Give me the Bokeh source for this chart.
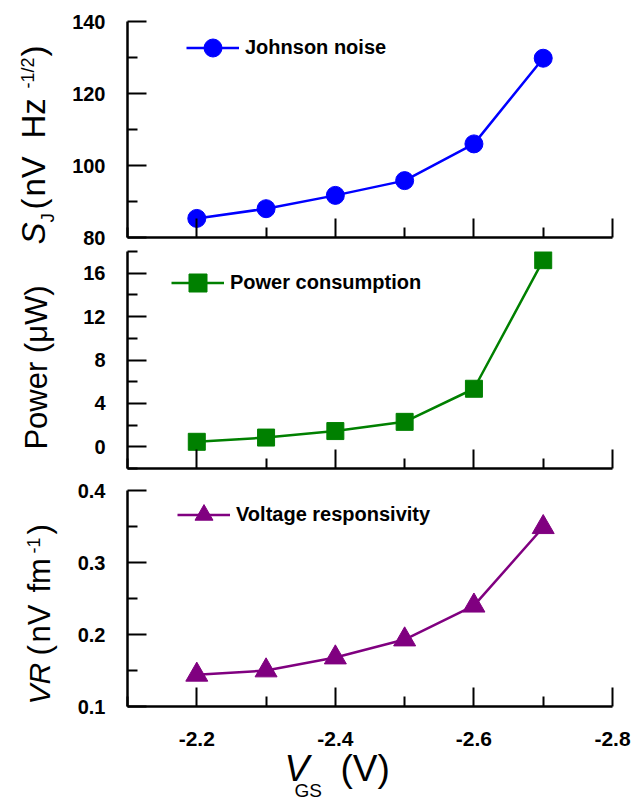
import math
from bokeh.plotting import figure
from bokeh.layouts import column, row
from bokeh.models import Range1d, FixedTicker, Legend, LegendItem, CustomJSTickFormatter
from bokeh.core.properties import value
from bokeh.embed import file_html
from bokeh.resources import INLINE

# ---- data ----
vgs = [-2.2, -2.3, -2.4, -2.5, -2.6, -2.7]
johnson_noise = [85.3, 88.0, 91.7, 95.8, 106.0, 129.8]
power = [0.46, 0.85, 1.45, 2.3, 5.35, 17.2]
responsivity = [0.144, 0.150, 0.168, 0.193, 0.240, 0.349]

x_start, x_end = -2.1, -2.8
x_major = [-2.2, -2.4, -2.6, -2.8]
x_minor = [-2.1, -2.3, -2.5, -2.7]
x_labels = ["-2.2", "-2.4", "-2.6", "-2.8"]
sj_major = [80, 100, 120, 140]
sj_minor = [90, 110, 130]
pw_major = [0, 4, 8, 12, 16]
pw_minor = [-2, 2, 6, 10, 14, 18]
vr_major = [0.1, 0.2, 0.3, 0.4]
vr_minor = [0.15, 0.25, 0.35]

FONT = "Liberation Sans"
W, H = 637, 801
STRIP_W = 62          # left strip holding the y-axis titles
BOTTOM_H = 81         # bottom strip holding x tick labels and x-axis title
FRAME_L, FRAME_R = 127, 612


def make_panel(y_start, y_end, y_major, y_minor, top, bottom, fh):
    p = figure(frame_width=FRAME_R - FRAME_L, frame_height=fh,
               min_border_left=FRAME_L - STRIP_W, min_border_right=W - FRAME_R,
               min_border_top=top, min_border_bottom=bottom,
               x_range=Range1d(x_start, x_end), y_range=Range1d(y_start, y_end),
               output_backend="svg", toolbar_location=None,
               background_fill_color="white", border_fill_color="white")
    p.outline_line_color = None
    p.grid.visible = False
    for ax in (p.xaxis[0], p.yaxis[0]):
        ax.axis_line_width = 2.5
        ax.axis_line_color = "black"
        ax.major_tick_line_width = 2
        ax.minor_tick_line_width = 2
        ax.major_tick_line_color = "black"
        ax.minor_tick_line_color = "black"
        ax.major_tick_in = 19
        ax.major_tick_out = 0
        ax.minor_tick_in = 10
        ax.minor_tick_out = 0
        ax.major_label_text_font = FONT
        ax.major_label_text_font_style = "bold"
        ax.major_label_text_font_size = "20px"
        ax.major_label_text_color = "black"
    p.xaxis.ticker = FixedTicker(ticks=x_major, minor_ticks=x_minor)
    p.yaxis.ticker = FixedTicker(ticks=y_major, minor_ticks=y_minor)
    p.yaxis.major_label_standoff = 22
    # x tick labels are drawn once, in the bottom strip
    p.xaxis.formatter = CustomJSTickFormatter(code="return ''")
    p.xaxis.major_label_text_font_size = "1px"
    p.xaxis.major_label_standoff = 0
    return p


def strip(w, h, xr):
    s = figure(width=w, height=h, x_range=xr, y_range=Range1d(0, h),
               min_border=0, x_axis_location=None, y_axis_location=None,
               output_backend="svg", toolbar_location=None,
               background_fill_color="white", border_fill_color="white")
    s.frame_align = False
    s.outline_line_color = None
    s.grid.visible = False
    return s


def legend(p, items, loc):
    lg = Legend(items=items, location=loc, glyph_width=53, glyph_height=45,
                label_standoff=6, label_text_font=FONT, label_text_font_style="bold",
                label_text_font_size="20px", label_text_color="black",
                padding=0, margin=0, spacing=0, border_line_color=None,
                background_fill_alpha=0)
    p.add_layout(lg)


# ---- panel 1: Johnson noise ----
p1 = make_panel(80, 140, sj_major, sj_minor, 21, 13, 216)
l1 = p1.line(vgs, johnson_noise, line_color="#0000FF", line_width=2.5)
s1 = p1.scatter(vgs, johnson_noise, marker="circle", size=18,
                fill_color="#0000FF", line_color="#0000FF")
legend(p1, [LegendItem(label="Johnson noise", renderers=[l1, s1])], (59, 167))

# ---- panel 2: power ----
p2 = make_panel(-2, 18, pw_major, pw_minor, 1, 9, 217)
l2 = p2.line(vgs, power, line_color="#008000", line_width=2.5)
s2 = p2.scatter(vgs, power, marker="square", size=17,
                fill_color="#008000", line_color="#008000")
legend(p2, [LegendItem(label="Power consumption", renderers=[l2, s2])], (44, 163))

# ---- panel 3: voltage responsivity ----
p3 = make_panel(0.1, 0.4, vr_major, vr_minor, 13, 14, 216)
l3 = p3.line(vgs, responsivity, line_color="#800080", line_width=2.5)
s3 = p3.scatter(vgs, responsivity, marker="triangle", size=22,
                fill_color="#800080", line_color="#800080")
legend(p3, [LegendItem(label="Voltage responsivity", renderers=[l3, s3])], (50, 169))

# ---- left strip: rotated y-axis titles (page px: centre line x, text start y) ----
left = strip(STRIP_W, H, Range1d(0, STRIP_W))
ytitle_parts = [
    ("S", 33, 244, "33px", "italic", "left"),
    ("J", 47, 222, "19px", "normal", "left"),
    ("(", 33, 209, "33px", "normal", "left"),
    ("nV", 33, 196, "33px", "normal", "left"),
    ("Hz", 33, 138, "33px", "normal", "left"),
    ("-1/2", 27, 88, "18px", "normal", "left"),
    (")", 33, 56, "33px", "normal", "left"),
    ("Power (\u03bcW)", 36, 367, "31px", "normal", "center"),
    ("VR", 39, 704, "30px", "italic", "left"),
    ("(", 39, 655, "31px", "normal", "left"),
    ("nV", 39, 642, "31px", "normal", "left"),
    ("fm", 39, 592, "31px", "normal", "left"),
    ("-1", 33, 553, "18px", "normal", "left"),
    (")", 39, 534, "31px", "normal", "left"),
]
for txt, px, py, size, style, align in ytitle_parts:
    left.text(x=[px], y=[H - py], text=[txt], angle=math.pi / 2,
              text_align=align, text_baseline="middle",
              text_font=value(FONT), text_font_size=size,
              text_font_style=style, text_color="black")

# ---- bottom strip: x tick labels + x-axis title ----
# its x range continues the panels' x scale over the strip's full width
span = (x_end - x_start) / (FRAME_R - FRAME_L)
bx0 = x_start + span * (STRIP_W - FRAME_L)
bx1 = x_start + span * (W - FRAME_L)
bottom = strip(W - STRIP_W, BOTTOM_H, Range1d(bx0, bx1))
bottom.extra_x_ranges = {"px": Range1d(STRIP_W, W)}
bottom.text(x=x_major, y=[H - 738] * len(x_major), text=x_labels,
            text_align="center", text_baseline="middle",
            text_font=value(FONT), text_font_size="21px",
            text_font_style="bold", text_color="black")
xtitle_parts = [
    ("V", 284, 768, "37px", "italic"),
    ("GS", 294, 790, "19px", "normal"),
    ("(V)", 340, 768, "37px", "normal"),
]
for txt, px, py, size, style in xtitle_parts:
    bottom.text(x=[px], y=[H - py], text=[txt], x_range_name="px",
                text_align="left", text_baseline="middle",
                text_font=value(FONT), text_font_size=size,
                text_font_style=style, text_color="black")

layout = row(left, column(p1, p2, p3, bottom, spacing=0), spacing=0)
open("out.html", "w").write(file_html(layout, INLINE))
